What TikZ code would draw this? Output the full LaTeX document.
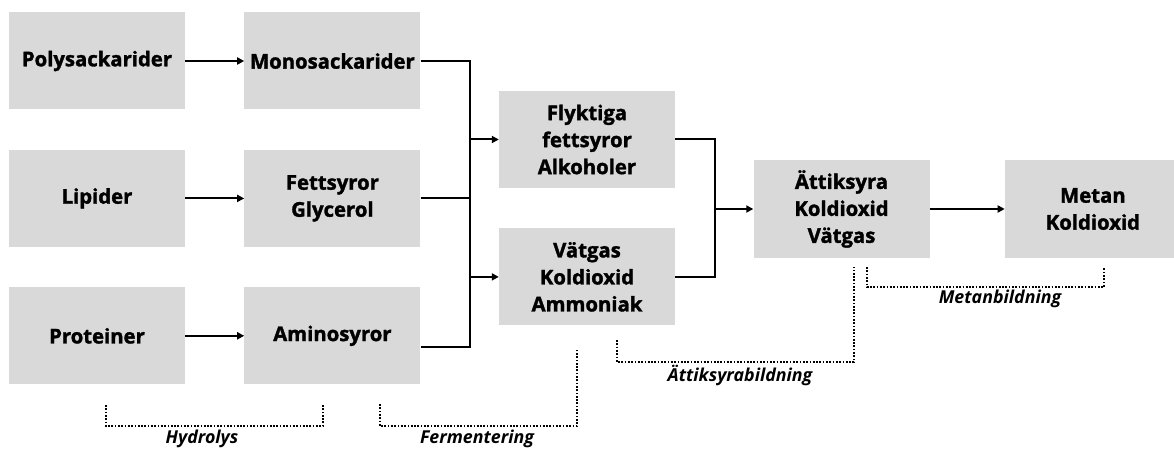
\documentclass[tikz,border=0pt]{standalone}
\usepackage{fontspec}
\setmainfont{Open Sans}[BoldFeatures={FakeBold=1.6}]
\usetikzlibrary{positioning}
\usetikzlibrary{arrows.meta}
\usetikzlibrary{calc}
\definecolor{rutaGra}{RGB}{217,217,217}
\tikzset{
  ruta/.style={
    rectangle, draw=none, fill=rutaGra,
    minimum height=97pt, minimum width=176pt,
    align=center, inner sep=2pt,
    font=\fontsize{20.3}{27}\selectfont\bfseries
  },
  linje/.style={line width=2pt, draw=black},
  pil/.style={-{Triangle[length=7pt,width=7pt]}, line width=2pt, draw=black},
  klammer/.style={line width=1.7pt, dash pattern=on 1.7pt off 1.6pt},
  fas/.style={font=\fontsize{17.8}{18}\selectfont\bfseries\itshape, inner sep=0pt}
}
\begin{document}
\begin{tikzpicture}[x=1pt, y=-1pt]
  \useasboundingbox (0,0) rectangle (1174,449);

  % hydrolys
  \node[ruta] (poly) at (97,61) {Polysackarider};
  \node[ruta, right=59pt of poly] (mono) {Monosackarider};
  \node[ruta, below=40pt of poly] (lipid) {Lipider};
  \node[ruta, right=59pt of lipid] (fett) {Fettsyror\\Glycerol};
  \node[ruta, below=40pt of lipid] (prot) {Proteiner};
  \node[ruta, right=59pt of prot] (amino) {Aminosyror};

  % fermentering
  \node[ruta] (flyk) at (587,139.5) {Flyktiga\\fettsyror\\Alkoholer};
  \node[ruta, below=40pt of flyk] (vatgas) {Vätgas\\Koldioxid\\Ammoniak};

  % ättiksyra och metan
  \node[ruta] (att) at (841.5,209) {Ättiksyra\\Koldioxid\\Vätgas};
  \node[ruta, right=75pt of att] (metan) {Metan\\Koldioxid};

  \draw[pil] (poly) -- (mono);
  \draw[pil] (lipid) -- (fett);
  \draw[pil] (prot) -- (amino);

  \coordinate (busA) at ($(mono.east)+(49,0)$);
  \draw[linje] (mono.east) -- (busA) |- ([yshift=-11pt]amino.east);
  \draw[linje] (fett.east) -- (fett.east -| busA);
  \draw[pil] (busA |- flyk.west) -- (flyk.west);
  \draw[pil] (busA |- vatgas.west) -- (vatgas.west);

  \coordinate (busB) at ($(flyk.east)+(40,0)$);
  \draw[linje] (flyk.east) -- (busB) |- (vatgas.east);
  \draw[pil] (busB |- att.west) -- (att.west);
  \draw[pil] (att) -- (metan);

  % faser
  \draw[klammer] (106,405) -- (106,426) -- (323,426) -- (323,404);
  \node[fas] (hydrolys) at (202,439) {Hydrolys};
  \draw[klammer] (380,404) -- (380,426) -- (577,426) -- (577,350);
  \node[fas] (ferm) at (477,439) {Fermentering};
  \draw[klammer] (617,340) -- (617,362) -- (854,362) -- (854,267);
  \node[fas] (attbild) at (740,375) {Ättiksyrabildning};
  \draw[klammer] (867,267) -- (867,287) -- (1104,287) -- (1104,267);
  \node[fas] (metbild) at (1000,299) {Metanbildning};
\end{tikzpicture}
\end{document}
